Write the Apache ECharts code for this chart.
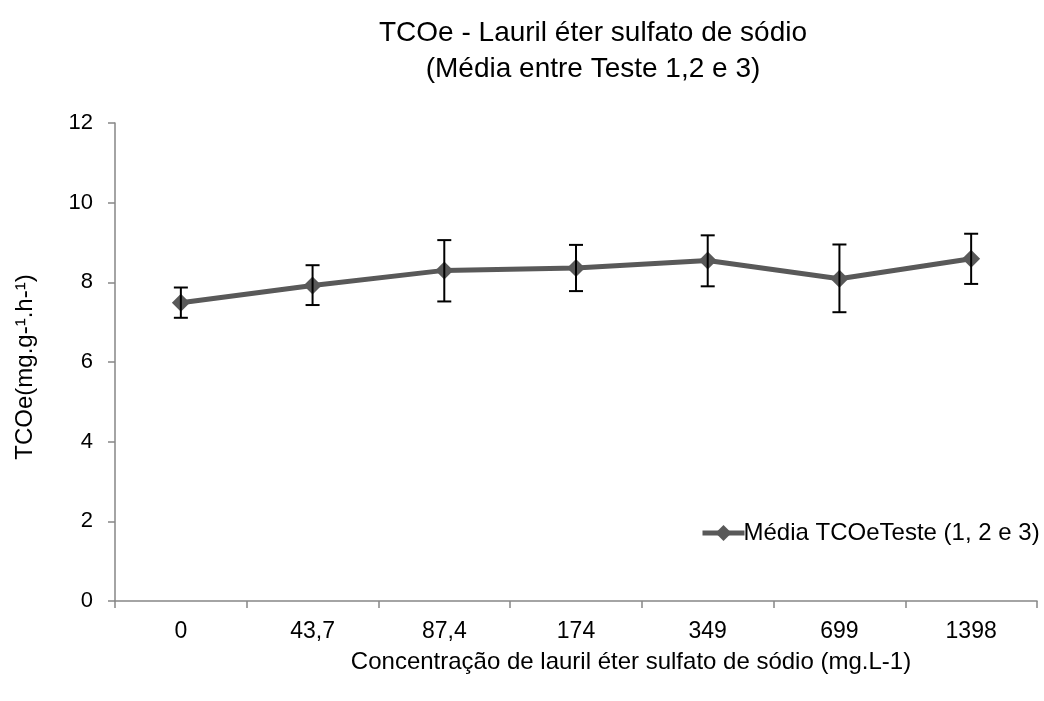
<!DOCTYPE html>
<html>
<head>
<meta charset="utf-8">
<script src="https://cdn.jsdelivr.net/npm/echarts@6/dist/echarts.min.js"></script>
<style>html,body{margin:0;padding:0;background:#fff}#chart{width:1044px;height:701px}</style>
</head>
<body>
<div id="chart"></div>
<script>
var categories = ['0', '43,7', '87,4', '174', '349', '699', '1398'];
var means = [7.49, 7.92, 8.30, 8.36, 8.55, 8.09, 8.59];
var errLow = [7.11, 7.43, 7.52, 7.78, 7.90, 7.25, 7.96];
var errHigh = [7.87, 8.43, 9.06, 8.94, 9.18, 8.95, 9.22];
var yTicks = [0, 2, 4, 6, 8, 10, 12];

var FONT = '"Liberation Sans", Arial, sans-serif';
var chart = echarts.init(document.getElementById('chart'), null, {renderer: 'canvas'});

var errData = categories.map(function (c, i) { return [i, errLow[i], errHigh[i]]; });

var option = {
  animation: false,
  backgroundColor: '#ffffff',
  title: {
    text: 'TCOe - Lauril éter sulfato de sódio\n(Média entre Teste 1,2 e 3)',
    left: 588, top: 10, textAlign: 'center',
    textStyle: {fontFamily: FONT, fontSize: 28, fontWeight: 'normal', color: '#000', lineHeight: 36}
  },
  legend: {
    data: ['Média TCOeTeste (1, 2 e 3)'],
    left: 695, top: 516,
    itemWidth: 42, itemHeight: 20, itemGap: 0,
    lineStyle: {width: 5},
    textStyle: {fontFamily: FONT, fontSize: 24, color: '#000', padding: [0, 0, 0, -6]}
  },
  grid: {left: 115, right: 7, top: 123, bottom: 100, containLabel: false},
  xAxis: {
    type: 'category', data: categories, boundaryGap: true,
    axisLine: {lineStyle: {color: '#868686', width: 1.5}},
    axisTick: {show: true, alignWithLabel: false, length: 7, lineStyle: {color: '#868686', width: 1.5}},
    axisLabel: {fontFamily: FONT, fontSize: 23, color: '#000', margin: 19},
    splitLine: {show: false}
  },
  yAxis: {
    type: 'value', min: yTicks[0], max: yTicks[yTicks.length - 1], interval: 2,
    axisLine: {show: true, lineStyle: {color: '#868686', width: 1.5}},
    axisTick: {show: true, length: 7, lineStyle: {color: '#868686', width: 1.5}},
    axisLabel: {fontFamily: FONT, fontSize: 22, color: '#000', margin: 22},
    splitLine: {show: false},
    name: 'TCOe(mg.g-¹.h-¹)', nameLocation: 'middle', nameGap: 78, nameRotate: 90,
    nameTextStyle: {fontFamily: FONT, fontSize: 24, color: '#000', padding: [0, 10, 0, 0]}
  },
  graphic: [{
    type: 'text', x: 631, y: 662,
    style: {text: 'Concentração de lauril éter sulfato de sódio (mg.L-1)', font: '24px ' + FONT, fill: '#000', align: 'center', verticalAlign: 'middle'}
  }],
  series: [
    {
      name: 'Média TCOeTeste (1, 2 e 3)', type: 'line', data: means,
      symbol: 'diamond', symbolSize: 18,
      lineStyle: {color: '#595959', width: 5},
      itemStyle: {color: '#595959'},
      z: 3
    },
    {
      type: 'custom', name: 'err', data: errData, z: 4,
      renderItem: function (params, api) {
        var x = api.value(0);
        var lo = api.coord([x, api.value(1)]);
        var hi = api.coord([x, api.value(2)]);
        var hw = 7;
        var st = {stroke: '#000', lineWidth: 2};
        return {
          type: 'group',
          children: [
            {type: 'line', shape: {x1: lo[0], y1: lo[1], x2: hi[0], y2: hi[1]}, style: st},
            {type: 'line', shape: {x1: lo[0] - hw, y1: lo[1], x2: lo[0] + hw, y2: lo[1]}, style: st},
            {type: 'line', shape: {x1: hi[0] - hw, y1: hi[1], x2: hi[0] + hw, y2: hi[1]}, style: st}
          ]
        };
      }
    }
  ]
};
chart.setOption(option);
</script>
</body>
</html>
